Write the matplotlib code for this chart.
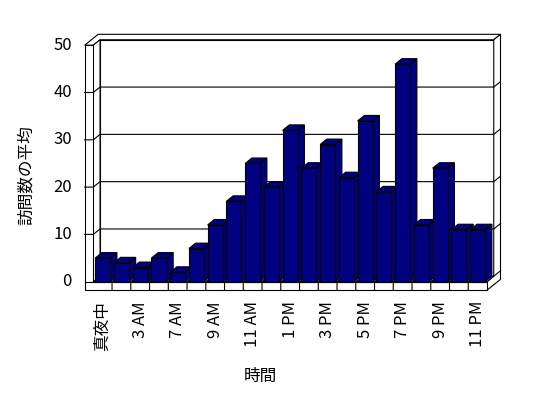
import matplotlib
matplotlib.use("Agg")
import matplotlib.pyplot as plt
from matplotlib.patches import Polygon

plt.rcParams['font.family'] = ['Noto Sans CJK JP', 'DejaVu Sans']

hours = ['真夜中', '1 AM', '3 AM', '5 AM', '7 AM', '8 AM', '9 AM', '10 AM',
         '11 AM', '12 PM', '1 PM', '2 PM', '3 PM', '4 PM', '5 PM', '6 PM',
         '7 PM', '8 PM', '9 PM', '10 PM', '11 PM']
visits = [5, 4, 3, 5, 2, 7, 12, 17, 25, 20, 32, 24, 29, 22, 34, 19,
          46, 12, 24, 11, 11]
yticks = [0, 10, 20, 30, 40, 50]

n = len(hours)
ymax = yticks[-1]

# fake 3d: offset of one unit of depth, in data units
ox, oy = 0.36, 1.15
wall = 0.46      # left wall thickness (categories)
floor = 1.8      # floor thickness (value units)
bar_w = 0.8

navy = '#000080'
lw = 0.8


def p(x, y, d):
    return (x + d * ox, y + d * oy)


fig = plt.figure(figsize=(5.48, 3.98), dpi=100)
ax = fig.add_axes([93.3 / 548, 1 - 281.7 / 398, 393.7 / 548, 236.5 / 398])
ax.set_xlim(0, n)
ax.set_ylim(0, ymax)
ax.axis('off')


def poly(pts, fc='white', z=1):
    ax.add_patch(Polygon(pts, closed=True, facecolor=fc, edgecolor='black',
                         linewidth=lw, clip_on=False, zorder=z,
                         joinstyle='miter'))


# back wall face
poly([p(0, 0, 1), p(n, 0, 1), p(n, ymax, 1), p(0, ymax, 1)])
# top of left + back wall
poly([p(-wall, ymax, 0), p(0, ymax, 0), p(0, ymax, 1), p(n, ymax, 1),
      p(n, ymax, 2), p(-wall, ymax, 2)])
# right side of back wall + floor
poly([p(n, -floor, 0), p(n, 0, 0), p(n, 0, 1), p(n, ymax, 1),
      p(n, ymax, 2), p(n, -floor, 2)])
# left wall inner face
poly([p(0, 0, 0), p(0, ymax, 0), p(0, ymax, 1), p(0, 0, 1)])
# left wall front face
poly([p(-wall, 0, 0), p(0, 0, 0), p(0, ymax, 0), p(-wall, ymax, 0)])
# floor top and front
poly([p(0, 0, 0), p(n, 0, 0), p(n, 0, 1), p(0, 0, 1)])
poly([p(-wall, -floor, 0), p(n, -floor, 0), p(n, 0, 0), p(-wall, 0, 0)])

# gridlines
for v in yticks[1:-1]:
    xs, ys = zip(p(-wall, v, 0), p(0, v, 0), p(0, v, 1), p(n, v, 1), p(n, v, 2))
    ax.plot(xs, ys, color='black', lw=lw, clip_on=False, zorder=2)
xs, ys = zip(p(n, 0, 1), p(n, 0, 2))
ax.plot(xs, ys, color='black', lw=lw, clip_on=False, zorder=2)

# category dividers on the floor
for i in range(1, n):
    xs, ys = zip(p(i, -floor, 0), p(i, 0, 0), p(i, 0, 0.25))
    ax.plot(xs, ys, color='black', lw=lw, clip_on=False, zorder=2)

# bars
for i, v in enumerate(visits):
    x0 = i + (1 - bar_w) / 2
    x1 = x0 + bar_w
    z = 3 + i
    poly([p(x1, 0, 0), p(x1, v, 0), p(x1, v, 1), p(x1, 0, 1)], navy, z)
    poly([p(x0, v, 0), p(x1, v, 0), p(x1, v, 1), p(x0, v, 1)], navy, z)
    poly([p(x0, 0, 0), p(x1, 0, 0), p(x1, v, 0), p(x0, v, 0)], navy, z)

# tick labels
for v in yticks:
    ax.text(-wall - 0.68, v, str(v), ha='right', va='center', fontsize=12)
for i, lab in enumerate(hours):
    if i % 2 == 0:
        ax.text(i + 0.5, -floor - 2.3, lab, rotation=90, ha='center',
                va='top', fontsize=12)

fig.text(260 / 548, 1 - 376 / 398, '時間', ha='center', va='center',
         fontsize=12)
fig.text(26 / 548, 1 - 175 / 398, '訪問数の平均', rotation=90,
         ha='center', va='center', fontsize=12)

fig.savefig('out.png', dpi=100)
